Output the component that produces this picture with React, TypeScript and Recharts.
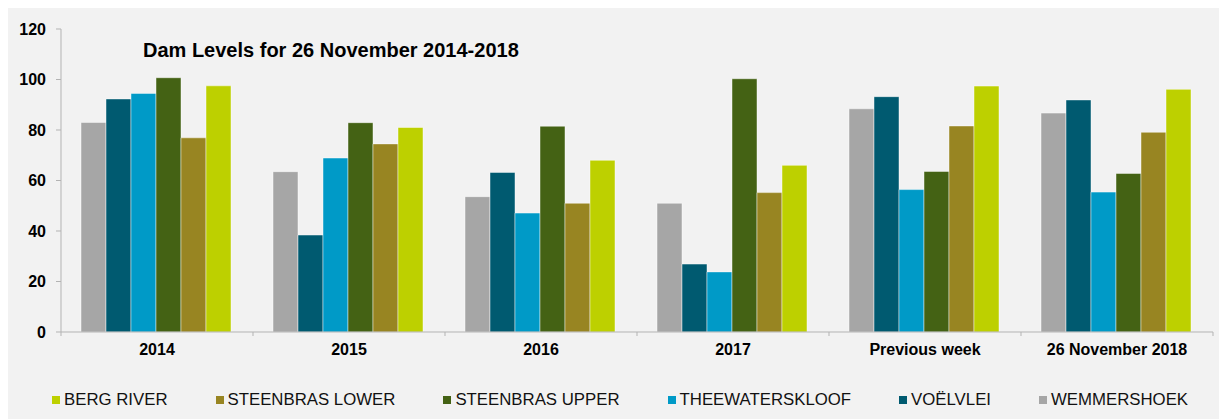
import { BarChart, Bar, XAxis, YAxis } from 'recharts';

const categories = ['2014', '2015', '2016', '2017', 'Previous week', '26 November 2018'];

const wemmershoek = [83, 63.5, 53.6, 51, 88.4, 86.7];
const voelvlei = [92.3, 38.4, 63.2, 26.9, 93.2, 91.9];
const theewaterskloof = [94.5, 68.9, 47.1, 23.8, 56.4, 55.4];
const steenbrasUpper = [100.7, 82.9, 81.5, 100.3, 63.6, 62.8];
const steenbrasLower = [76.9, 74.5, 51, 55.2, 81.6, 79.1];
const bergRiver = [97.5, 81, 68, 66, 97.4, 96.1];

const yTicks = [0, 20, 40, 60, 80, 100, 120];

// bar order left to right inside each group
const SERIES = [
  { key: 'wemmershoek', name: 'WEMMERSHOEK', color: '#a6a6a6', values: wemmershoek },
  { key: 'voelvlei', name: 'VOËLVLEI', color: '#005a70', values: voelvlei },
  { key: 'theewaterskloof', name: 'THEEWATERSKLOOF', color: '#009ac7', values: theewaterskloof },
  { key: 'steenbrasUpper', name: 'STEENBRAS UPPER', color: '#446214', values: steenbrasUpper },
  { key: 'steenbrasLower', name: 'STEENBRAS LOWER', color: '#988522', values: steenbrasLower },
  { key: 'bergRiver', name: 'BERG RIVER', color: '#bdd000', values: bergRiver },
];

const FONT = '"Liberation Sans", Arial, sans-serif';
const AXIS = '#b3b3b3';

const data = categories.map((name, i) => {
  const row: Record<string, string | number> = { name };
  SERIES.forEach((s) => (row[s.key] = s.values[i]));
  return row;
});

function CategoryTick(props: any) {
  const { x, y, payload, index } = props;
  const half = payload.offset || 0;
  const axisY = y - 12;
  return (
    <g>
      <line x1={x - half} x2={x - half} y1={axisY} y2={axisY + 4} stroke={AXIS} />
      {index === categories.length - 1 && (
        <line x1={x + half} x2={x + half} y1={axisY} y2={axisY + 4} stroke={AXIS} />
      )}
      <text x={x} y={y} dy="0.71em" textAnchor="middle" fontFamily={FONT} fontSize={16} fontWeight="bold" fill="#000">
        {payload.value}
      </text>
    </g>
  );
}

export default function App() {
  const legendItems = [...SERIES].reverse();
  return (
    <div style={{ position: 'relative', width: 1223, height: 414, margin: '-3px 0 0 -4px', background: '#f2f2f2', fontFamily: FONT }}>
      <BarChart
        width={1223}
        height={414}
        data={data}
        margin={{ top: 24, right: 14, left: 0, bottom: 47 }}
        barCategoryGap={20}
        barGap={0}
      >
        <XAxis
          dataKey="name"
          height={40}
          stroke={AXIS}
          tickLine={false}
          tickSize={4}
          tickMargin={8}
          interval={0}
          tick={<CategoryTick />}
        />
        <YAxis
          width={57}
          domain={[0, 120]}
          ticks={yTicks}
          stroke={AXIS}
          tickSize={5}
          tickMargin={10}
          tick={{ fill: '#000', fontSize: 16, fontWeight: 'bold', fontFamily: FONT }}
        />
        {SERIES.map((s) => (
          <Bar
            key={s.key}
            dataKey={s.key}
            name={s.name}
            fill={s.color}
            stroke="#ffffff"
            strokeOpacity={0.45}
            strokeWidth={1}
            isAnimationActive={false}
          />
        ))}
      </BarChart>
      <div style={{ position: 'absolute', left: 139, top: 35.4, fontSize: 20, lineHeight: '20px', fontWeight: 'bold', color: '#000', whiteSpace: 'nowrap' }}>
        Dam Levels for 26 November 2014-2018
      </div>
      <div style={{ position: 'absolute', left: 48, top: 384.5, height: 20, display: 'flex', alignItems: 'center', gap: 48, fontSize: 16.8, color: '#111', whiteSpace: 'nowrap' }}>
        {legendItems.map((s) => (
          <div key={s.key} style={{ display: 'flex', alignItems: 'center', gap: 4 }}>
            <span style={{ width: 8, height: 8, background: s.color, display: 'inline-block' }} />
            <span>{s.name}</span>
          </div>
        ))}
      </div>
    </div>
  );
}
